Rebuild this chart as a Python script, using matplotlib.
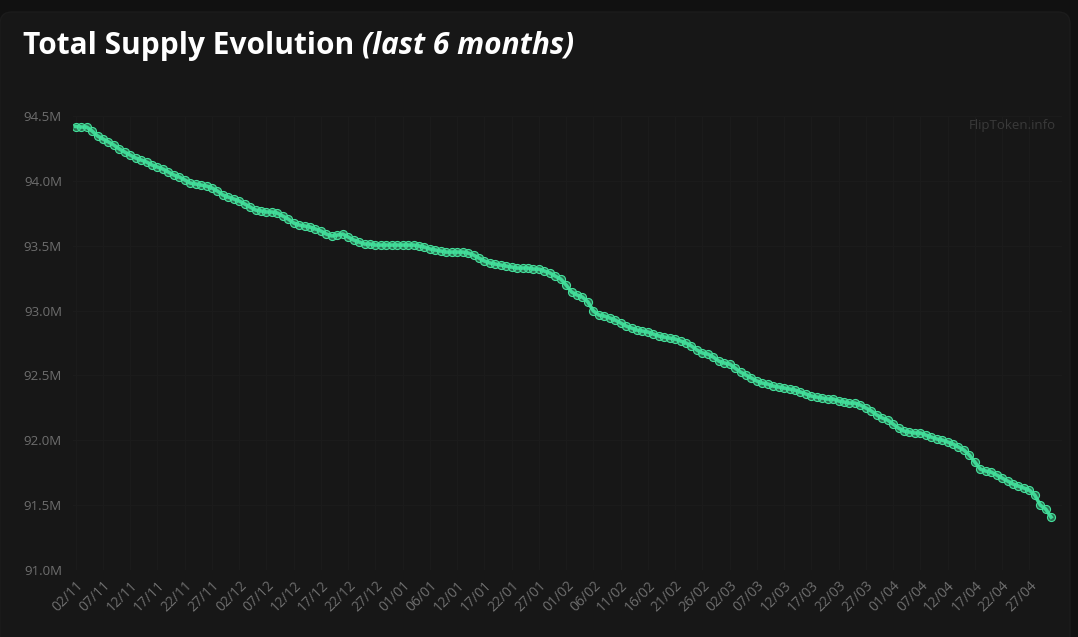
import matplotlib as mpl
mpl.use("Agg")
import matplotlib.pyplot as plt
from matplotlib.patches import FancyBboxPatch
from matplotlib.transforms import IdentityTransform
import numpy as np

# daily total supply, in millions (02/11 -> 01/05)
supply = [
    94.419, 94.415, 94.415, 94.384, 94.346, 94.323, 94.300, 94.276, 94.246, 94.222,
    94.199, 94.176, 94.161, 94.145, 94.122, 94.107, 94.091, 94.068, 94.045, 94.030,
    94.007, 93.983, 93.976, 93.968, 93.960, 93.945, 93.922, 93.891, 93.875, 93.860,
    93.845, 93.822, 93.798, 93.775, 93.768, 93.760, 93.760, 93.752, 93.729, 93.706,
    93.675, 93.660, 93.652, 93.644, 93.629, 93.613, 93.590, 93.575, 93.582, 93.590,
    93.567, 93.544, 93.529, 93.513, 93.513, 93.505, 93.505, 93.505, 93.505, 93.505,
    93.505, 93.505, 93.505, 93.498, 93.490, 93.475, 93.467, 93.459, 93.451, 93.451,
    93.451, 93.451, 93.444, 93.428, 93.405, 93.382, 93.367, 93.359, 93.351, 93.343,
    93.336, 93.328, 93.328, 93.328, 93.320, 93.320, 93.305, 93.290, 93.266, 93.243,
    93.197, 93.143, 93.120, 93.104, 93.066, 92.997, 92.966, 92.958, 92.943, 92.927,
    92.904, 92.881, 92.865, 92.850, 92.842, 92.835, 92.819, 92.804, 92.796, 92.788,
    92.781, 92.765, 92.750, 92.727, 92.696, 92.673, 92.665, 92.642, 92.611, 92.596,
    92.588, 92.557, 92.526, 92.503, 92.480, 92.457, 92.441, 92.434, 92.418, 92.411,
    92.403, 92.395, 92.387, 92.372, 92.357, 92.341, 92.333, 92.326, 92.318, 92.318,
    92.303, 92.295, 92.287, 92.287, 92.272, 92.249, 92.226, 92.195, 92.172, 92.156,
    92.125, 92.094, 92.071, 92.064, 92.056, 92.056, 92.040, 92.025, 92.010, 92.002,
    91.987, 91.971, 91.948, 91.925, 91.886, 91.832, 91.778, 91.763, 91.755, 91.732,
    91.709, 91.686, 91.663, 91.647, 91.632, 91.616, 91.578, 91.501, 91.470, 91.408,
]

# one label every 5 data points
tick_labels = [
    "02/11", "07/11", "12/11", "17/11", "22/11", "27/11", "02/12", "07/12", "12/12",
    "17/12", "22/12", "27/12", "01/01", "06/01", "12/01", "17/01", "22/01", "27/01",
    "01/02", "06/02", "11/02", "16/02", "21/02", "26/02", "02/03", "07/03", "12/03",
    "17/03", "22/03", "27/03", "01/04", "07/04", "12/04", "17/04", "22/04", "27/04",
]
y_ticks = [91.0, 91.5, 92.0, 92.5, 93.0, 93.5, 94.0, 94.5]

W, H = 1078, 637
fig = plt.figure(figsize=(W / 100, H / 100), dpi=100)
fig.patch.set_facecolor("#111111")

# card behind everything
card = FancyBboxPatch((0, -30), 1070, H - 12 + 30,
                      boxstyle="round,pad=0,rounding_size=12",
                      transform=IdentityTransform(),
                      facecolor="#171717", edgecolor="#1c1c1c", lw=1, zorder=-10)
fig.patches.append(card)

ax = fig.add_axes([73 / W, 1 - 570 / H, (1062 - 73) / W, (570 - 116) / H])
ax.set_facecolor("none")
ax.set_zorder(2)

x = np.arange(len(supply))
green = "#3fd896"
ax.plot(x, supply, color=green, lw=2.6, marker="o", ms=5.8,
        mfc=(0.25, 0.85, 0.59, 0.45), mec="#45e09c", mew=0.8, zorder=3)

ax.set_xlim(-0.5, 181)
ax.set_ylim(91.0, 94.5)
ax.set_yticks(y_ticks)
ax.set_yticklabels([f"{v:.1f}M" for v in y_ticks])
ax.set_xticks(x[::5][:len(tick_labels)])
ax.set_xticklabels(tick_labels, rotation=45, ha="right", rotation_mode="anchor")

ax.tick_params(length=0, colors="#6e6e6e")
ax.tick_params(axis="y", pad=8, labelsize=9.5)
ax.tick_params(axis="x", pad=6, labelsize=10)
for lab in ax.get_xticklabels() + ax.get_yticklabels():
    lab.set_fontfamily("Open Sans")
ax.grid(True, color="#1b1b1b", lw=0.8)
for s in ax.spines.values():
    s.set_visible(False)

# title: bold part + bold italic part
t1 = fig.text(23 / W, 1 - 46 / H, "Total Supply Evolution ", fontsize=21.5,
              fontweight="bold", color="white", va="center", family="Open Sans",
              zorder=5)
fig.canvas.draw()
bb = t1.get_window_extent()
fig.text(bb.x1 / W, 1 - 46 / H, "(last 6 months)", fontsize=21.5,
         fontweight="bold", style="italic", color="white", va="center",
         family="Open Sans", zorder=5)

fig.text(1056 / W, 1 - 126 / H, "FlipToken.info", fontsize=9.5, color="#3a3a3a",
         ha="right", va="center", family="Open Sans", zorder=5)

fig.savefig("out.png", dpi=100, facecolor=fig.get_facecolor())
